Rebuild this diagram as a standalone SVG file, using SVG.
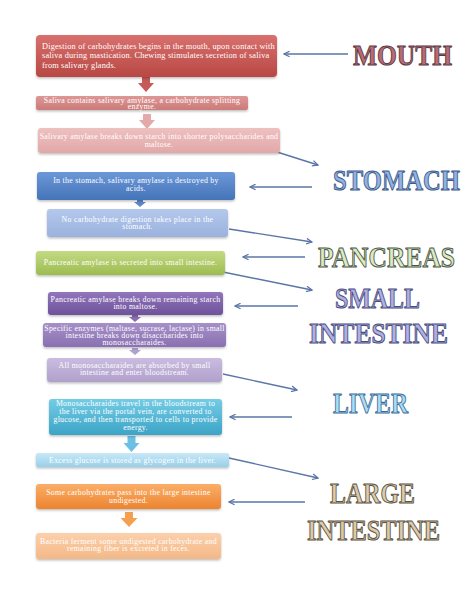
<svg xmlns="http://www.w3.org/2000/svg" width="474" height="613" viewBox="0 0 474 613">
<defs>
<style>
.bt{font-family:"Liberation Serif","Times New Roman",serif;font-size:7.8px;letter-spacing:0.3px;fill:#ffffff;text-anchor:middle}
.bl{font-family:"Liberation Serif","Times New Roman",serif;font-size:8.3px;letter-spacing:0.18px;fill:#ffffff}
.lab{font-family:"Liberation Serif","Times New Roman",serif;font-weight:bold;font-size:27px;stroke-width:0.9px;stroke-linejoin:round}
.con{stroke:#5a76a6;stroke-width:1.4;fill:none;marker-end:url(#ah)}
</style>
<filter id="sh" x="-5%" y="-20%" width="110%" height="150%">
<feDropShadow dx="0" dy="1.5" stdDeviation="1.2" flood-color="#000" flood-opacity="0.25"/>
</filter>
<marker id="ah" viewBox="0 0 10 10" refX="9" refY="5" markerWidth="5" markerHeight="5" orient="auto" markerUnits="strokeWidth">
<path d="M1,1 L9,5 L1,9" fill="none" stroke="#5a76a6" stroke-width="1.8"/>
</marker>
<linearGradient id="g1" x1="0" y1="0" x2="0" y2="1"><stop offset="0" stop-color="#d8706e"/><stop offset="1" stop-color="#b84844"/></linearGradient>
<linearGradient id="g2" x1="0" y1="0" x2="0" y2="1"><stop offset="0" stop-color="#dc9896"/><stop offset="1" stop-color="#cc7a78"/></linearGradient>
<linearGradient id="g3" x1="0" y1="0" x2="0" y2="1"><stop offset="0" stop-color="#eec0c0"/><stop offset="1" stop-color="#e2a8a8"/></linearGradient>
<linearGradient id="g4" x1="0" y1="0" x2="0" y2="1"><stop offset="0" stop-color="#6c98d8"/><stop offset="1" stop-color="#4474b8"/></linearGradient>
<linearGradient id="g5" x1="0" y1="0" x2="0" y2="1"><stop offset="0" stop-color="#b4c8ec"/><stop offset="1" stop-color="#9ab2de"/></linearGradient>
<linearGradient id="g6" x1="0" y1="0" x2="0" y2="1"><stop offset="0" stop-color="#c4da84"/><stop offset="1" stop-color="#9cbc50"/></linearGradient>
<linearGradient id="g7" x1="0" y1="0" x2="0" y2="1"><stop offset="0" stop-color="#9276bc"/><stop offset="1" stop-color="#6e529a"/></linearGradient>
<linearGradient id="g8" x1="0" y1="0" x2="0" y2="1"><stop offset="0" stop-color="#a690c8"/><stop offset="1" stop-color="#8a70b2"/></linearGradient>
<linearGradient id="g9" x1="0" y1="0" x2="0" y2="1"><stop offset="0" stop-color="#cabce0"/><stop offset="1" stop-color="#b0a0cc"/></linearGradient>
<linearGradient id="g10" x1="0" y1="0" x2="0" y2="1"><stop offset="0" stop-color="#74cce6"/><stop offset="1" stop-color="#3ca4c6"/></linearGradient>
<linearGradient id="g11" x1="0" y1="0" x2="0" y2="1"><stop offset="0" stop-color="#c8e8f6"/><stop offset="1" stop-color="#98d0ea"/></linearGradient>
<linearGradient id="g12" x1="0" y1="0" x2="0" y2="1"><stop offset="0" stop-color="#fbae68"/><stop offset="1" stop-color="#ec8430"/></linearGradient>
<linearGradient id="g13" x1="0" y1="0" x2="0" y2="1"><stop offset="0" stop-color="#fbd0ac"/><stop offset="1" stop-color="#f4b886"/></linearGradient>
</defs>
<rect width="474" height="613" fill="#ffffff"/>

<g id="connectors">
<path class="con" d="M348,54 L284,54"/>
<path class="con" d="M277,152 L318,165"/>
<path class="con" d="M312,187 L250,187"/>
<path class="con" d="M229,229 L312,242"/>
<path class="con" d="M305,257 L243,257"/>
<path class="con" d="M223,272 L312,290"/>
<path class="con" d="M298,306 L235,306"/>
<path class="con" d="M223,374 L297,390"/>
<path class="con" d="M292,417 L230,417"/>
<path class="con" d="M229,458 L318,478"/>
<path class="con" d="M305,502 L229,502"/>
<path d="M142,77 h8 v6 h4 l-8,9 l-8,-9 h4 z" fill="#c85a58"/>
<path d="M143,114 h8 v6 h4 l-8,9 l-8,-9 h4 z" fill="#e4aaaa"/>
<path d="M137,200 h6 v2 h3 l-6,5 l-6,-5 h3 z" fill="#5c88cc"/>
<path d="M132,315 h6 v2 h3 l-6,5 l-6,-5 h3 z" fill="#8a70b0"/>
<path d="M132,348 h6 v2 h3 l-6,5 l-6,-5 h3 z" fill="#b0a2cc"/>
<path d="M127.5,436 h8 v7 h4 l-8,9 l-8,-9 h4 z" fill="#6cc0e4"/>
<path d="M125,512 h8 v6 h4.5 l-8.5,9 l-8.5,-9 h4.5 z" fill="#f5a050"/>
</g>

<g id="n1"><rect x="36" y="35" width="241" height="42" rx="4" fill="url(#g1)" filter="url(#sh)"/>
<text class="bl" x="42" y="48.5">Digestion of carbohydrates begins in the mouth, upon contact with</text>
<text class="bl" x="42" y="58">saliva during mastication. Chewing stimulates secretion of saliva</text>
<text class="bl" x="42" y="67.5">from salivary glands.</text></g>

<g id="n2"><rect x="36" y="96" width="212" height="14" rx="2" fill="url(#g2)" filter="url(#sh)"/>
<text class="bt" x="142" y="102.5">Saliva contains salivary amylase, a carbohydrate splitting</text>
<text class="bt" x="142" y="109.3">enzyme.</text></g>

<g id="n3"><rect x="38" y="128" width="242" height="25" rx="3" fill="url(#g3)" filter="url(#sh)"/>
<text class="bt" x="159" y="139.3">Salivary amylase breaks down starch into shorter polysaccharides and</text>
<text class="bt" x="159" y="146.5">maltose.</text></g>

<g id="n4"><rect x="37" y="172" width="198" height="28" rx="3" fill="url(#g4)" filter="url(#sh)"/>
<text class="bt" x="136" y="183">In the stomach, salivary amylase is destroyed by</text>
<text class="bt" x="136" y="190.6">acids.</text></g>

<g id="n5"><rect x="47" y="209" width="181" height="28" rx="3" fill="url(#g5)" filter="url(#sh)"/>
<text class="bt" x="137.5" y="221.5">No carbohydrate digestion takes place in the</text>
<text class="bt" x="137.5" y="229.1">stomach.</text></g>

<g id="n6"><rect x="36" y="251" width="189" height="24" rx="3" fill="url(#g6)" filter="url(#sh)"/>
<text class="bt" x="130.5" y="265">Pancreatic amylase is secreted into small intestine.</text></g>

<g id="n7"><rect x="48" y="292" width="175" height="23" rx="3" fill="url(#g7)" filter="url(#sh)"/>
<text class="bt" x="135.5" y="302">Pancreatic amylase breaks down remaining starch</text>
<text class="bt" x="135.5" y="309.3">into maltose.</text></g>

<g id="n8"><rect x="43" y="323" width="183" height="24" rx="3" fill="url(#g8)" filter="url(#sh)"/>
<text class="bt" x="134.5" y="330.8">Specific enzymes (maltase, sucrase, lactase) in small</text>
<text class="bt" x="134.5" y="337.8">intestine breaks down disaccharides into</text>
<text class="bt" x="134.5" y="344.8">monosaccharaides.</text></g>

<g id="n9"><rect x="47" y="358" width="175" height="24" rx="3" fill="url(#g9)" filter="url(#sh)"/>
<text class="bt" x="134.5" y="368">All monosaccharaides are absorbed by small</text>
<text class="bt" x="134.5" y="375.2">intestine and enter bloodstream.</text></g>

<g id="n10"><rect x="49" y="399" width="173" height="36" rx="3" fill="url(#g10)" filter="url(#sh)"/>
<text class="bt" x="135.5" y="405.7">Monosaccharaides travel in the bloodstream to</text>
<text class="bt" x="135.5" y="414">the liver via the portal vein, are converted to</text>
<text class="bt" x="135.5" y="422.3">glucose, and then transported to cells to provide</text>
<text class="bt" x="135.5" y="430.4">energy.</text></g>

<g id="n11"><rect x="36" y="453" width="193" height="14" rx="2" fill="url(#g11)" filter="url(#sh)"/>
<text class="bt" x="132.5" y="462.5">Excess glucose is stored as glycogen in the liver.</text></g>

<g id="n12"><rect x="36" y="484" width="185" height="25" rx="3" fill="url(#g12)" filter="url(#sh)"/>
<text class="bt" x="128.5" y="495">Some carbohydrates pass into the large intestine</text>
<text class="bt" x="128.5" y="502.5">undigested.</text></g>

<g id="n13"><rect x="36" y="533" width="185" height="26" rx="3" fill="url(#g13)" filter="url(#sh)"/>
<text class="bt" x="128.5" y="544">Bacteria ferment some undigested carbohydrate and</text>
<text class="bt" x="128.5" y="551">remaining fiber is excreted in feces.</text></g>

<g id="mouth"><text class="lab" transform="translate(353,65) scale(1,1.12)" textLength="99" lengthAdjust="spacingAndGlyphs" fill="#bb6a70" stroke="#5a3a48">MOUTH</text></g>
<g id="stomach"><text class="lab" transform="translate(333,190) scale(1,1.12)" textLength="127" lengthAdjust="spacingAndGlyphs" fill="#92b2e2" stroke="#3c5a8c">STOMACH</text></g>
<g id="pancreas"><text class="lab" transform="translate(318,267) scale(1,1.12)" textLength="137" lengthAdjust="spacingAndGlyphs" fill="#dcebbf" stroke="#4a5848">PANCREAS</text></g>
<g id="small-intestine"><text class="lab" transform="translate(335,308) scale(1,1.12)" textLength="85" lengthAdjust="spacingAndGlyphs" fill="#aeb0e4" stroke="#4a4c7e">SMALL</text>
<text class="lab" transform="translate(309,343) scale(1,1.12)" textLength="139" lengthAdjust="spacingAndGlyphs" fill="#aeb0e4" stroke="#4a4c7e">INTESTINE</text></g>
<g id="liver"><text class="lab" transform="translate(333,413) scale(1,1.12)" textLength="75" lengthAdjust="spacingAndGlyphs" fill="#acdcf2" stroke="#3a6c9c">LIVER</text></g>
<g id="large-intestine"><text class="lab" transform="translate(330,503) scale(1,1.12)" textLength="85" lengthAdjust="spacingAndGlyphs" fill="#dccaa8" stroke="#5a5244">LARGE</text>
<text class="lab" transform="translate(307,540) scale(1,1.12)" textLength="133" lengthAdjust="spacingAndGlyphs" fill="#dccaa8" stroke="#5a5244">INTESTINE</text></g>
</svg>
